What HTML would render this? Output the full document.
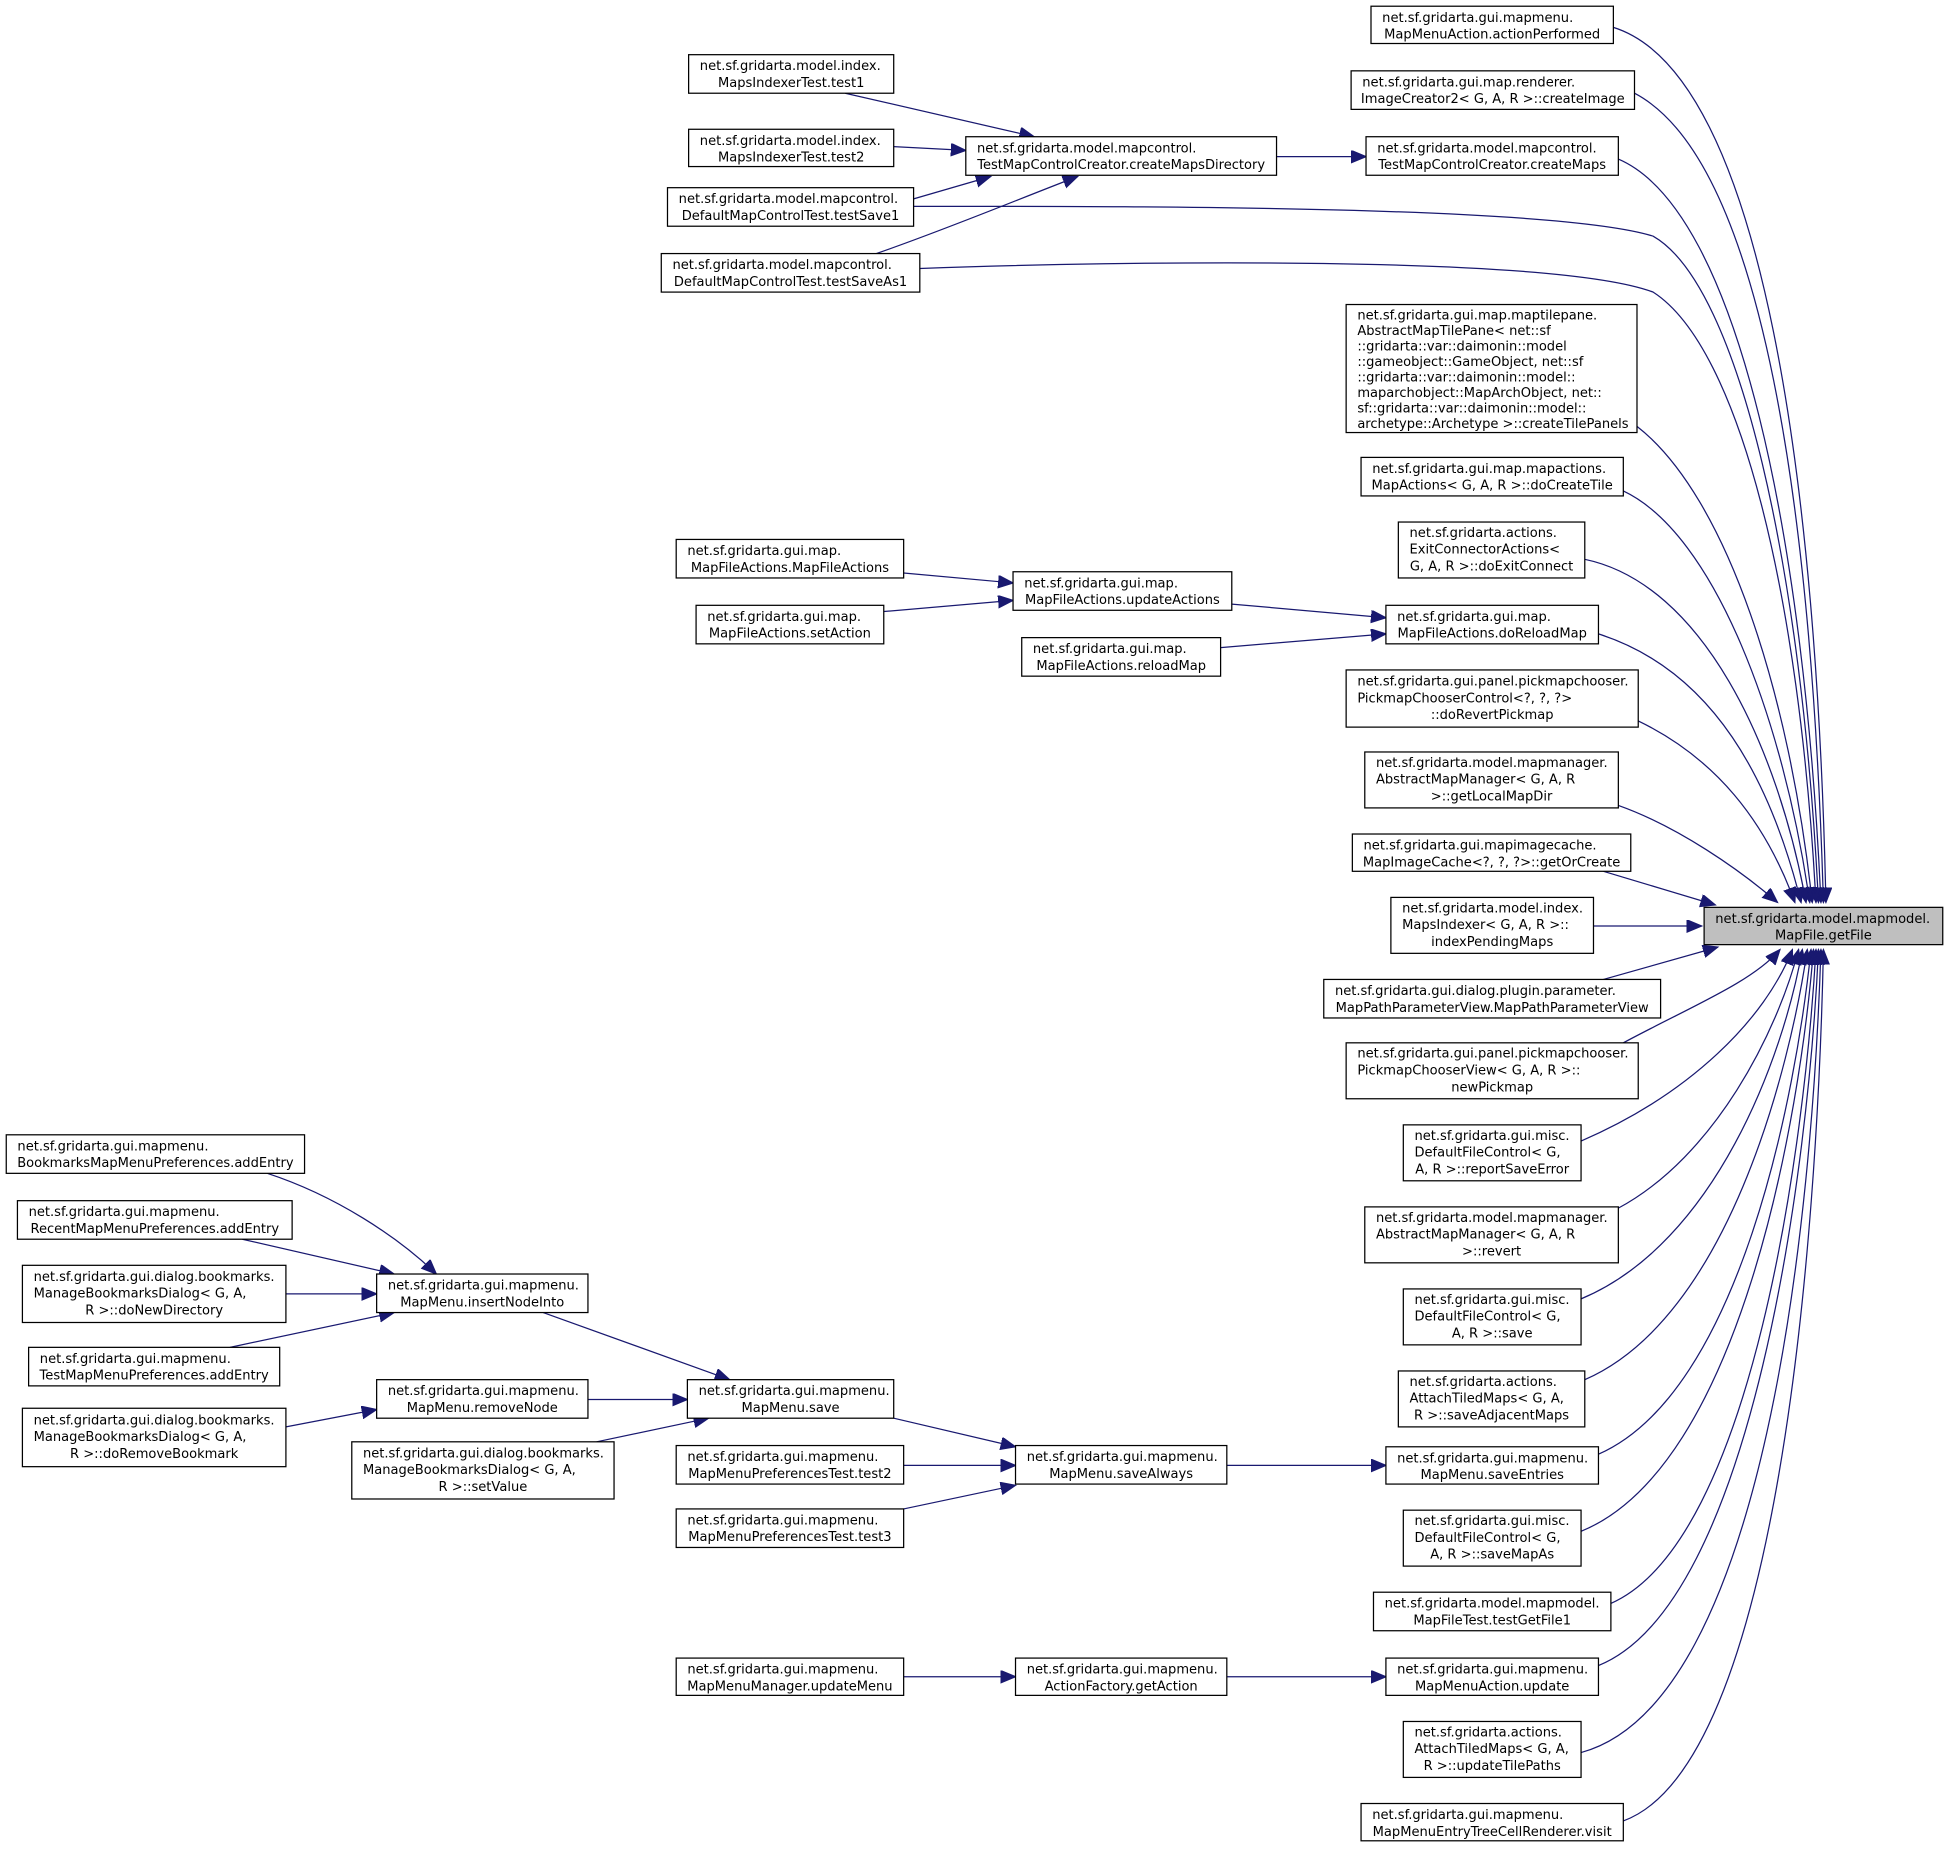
<!DOCTYPE html>
<html><head><meta charset="utf-8"><style>
html,body{margin:0;padding:0;background:#fff;}
svg{display:block;}
text{font-family:"DejaVu Sans","Liberation Sans",sans-serif;font-size:10.5px;fill:#000;}
rect{fill:#fff;stroke:#000;stroke-width:1;}
path.e{fill:none;stroke:#191970;stroke-width:1;}
</style></head><body>
<svg width="1949" height="1849" viewBox="0 0 1568 1487.6" xmlns="http://www.w3.org/2000/svg">
<defs><marker id="a" markerUnits="userSpaceOnUse" markerWidth="14" markerHeight="12" refX="12" refY="5" orient="auto"><path d="M0,0 L12,5 L0,10 z" fill="#191970" stroke="#191970"/></marker></defs>
<rect x="0" y="0" width="1568" height="1488" style="fill:#fff;stroke:none"/>

<g>
<path class="e" marker-end="url(#a)" d="M1298,22 C1420,60 1462,400 1469,726"/>
<path class="e" marker-end="url(#a)" d="M1315,75 C1420,130 1458,420 1467,726"/>
<path class="e" marker-end="url(#a)" d="M1302,128 C1400,170 1452,440 1465,726"/>
<path class="e" marker-end="url(#a)" d="M735,166 C900,166 1250,165 1330,190 C1400,230 1450,460 1463,726"/>
<path class="e" marker-end="url(#a)" d="M740,216 C900,210 1250,205 1330,235 C1400,280 1448,480 1461,726"/>
<path class="e" marker-end="url(#a)" d="M1317,343 C1390,400 1440,560 1458,726"/>
<path class="e" marker-end="url(#a)" d="M1306,395 C1380,430 1435,580 1456,726"/>
<path class="e" marker-end="url(#a)" d="M1275,450 C1370,470 1430,600 1453,726"/>
<path class="e" marker-end="url(#a)" d="M1286,510 C1380,540 1425,630 1449,726"/>
<path class="e" marker-end="url(#a)" d="M1318,580 C1380,610 1420,660 1444,726"/>
<path class="e" marker-end="url(#a)" d="M1302,648 C1350,665 1400,700 1430,726"/>
<path class="e" marker-end="url(#a)" d="M1290,701 L1380,728"/>
<path class="e" marker-end="url(#a)" d="M1282,745 L1369,745"/>
<path class="e" marker-end="url(#a)" d="M1290,788 L1382,762"/>
<path class="e" marker-end="url(#a)" d="M1306,839 C1360,810 1410,790 1432,764"/>
<path class="e" marker-end="url(#a)" d="M1272,918 C1360,880 1420,820 1442,764"/>
<path class="e" marker-end="url(#a)" d="M1302,972 C1380,930 1430,830 1447,764"/>
<path class="e" marker-end="url(#a)" d="M1272,1045 C1380,1000 1435,850 1450,764"/>
<path class="e" marker-end="url(#a)" d="M1275,1110 C1390,1060 1440,860 1454,764"/>
<path class="e" marker-end="url(#a)" d="M1286,1170 C1400,1120 1445,880 1457,764"/>
<path class="e" marker-end="url(#a)" d="M1272,1232 C1400,1180 1448,900 1459,764"/>
<path class="e" marker-end="url(#a)" d="M1296,1290 C1410,1240 1452,920 1461,764"/>
<path class="e" marker-end="url(#a)" d="M1286,1340 C1410,1290 1455,940 1463,764"/>
<path class="e" marker-end="url(#a)" d="M1272,1410 C1420,1370 1458,980 1465,764"/>
<path class="e" marker-end="url(#a)" d="M1306,1465 C1430,1420 1462,1000 1467,764"/>

<path class="e" marker-end="url(#a)" d="M1027,126 L1099,126"/>
<path class="e" marker-end="url(#a)" d="M680,75 L832,110"/>
<path class="e" marker-end="url(#a)" d="M719,118 L777,121"/>
<path class="e" marker-end="url(#a)" d="M735,160 L797,142"/>
<path class="e" marker-end="url(#a)" d="M705,204 C760,185 820,160 867,142"/>

<path class="e" marker-end="url(#a)" d="M727,461 L815,469"/>
<path class="e" marker-end="url(#a)" d="M711,492 L815,483"/>
<path class="e" marker-end="url(#a)" d="M991,486 L1115,497"/>
<path class="e" marker-end="url(#a)" d="M982,521 L1115,510"/>

<path class="e" marker-end="url(#a)" d="M987,1179 L1115,1179"/>
<path class="e" marker-end="url(#a)" d="M719,1141 L817,1164"/>
<path class="e" marker-end="url(#a)" d="M727,1179 L817,1179"/>
<path class="e" marker-end="url(#a)" d="M727,1214 L817,1195"/>
<path class="e" marker-end="url(#a)" d="M437,1056 L587,1110"/>
<path class="e" marker-end="url(#a)" d="M473,1126 L553,1126"/>
<path class="e" marker-end="url(#a)" d="M480,1160 L570,1141"/>
<path class="e" marker-end="url(#a)" d="M215,944 C270,962 320,995 351,1025"/>
<path class="e" marker-end="url(#a)" d="M195,997 L317,1025"/>
<path class="e" marker-end="url(#a)" d="M230,1041 L303,1041"/>
<path class="e" marker-end="url(#a)" d="M185,1084 L317,1056"/>
<path class="e" marker-end="url(#a)" d="M230,1148 L303,1134"/>

<path class="e" marker-end="url(#a)" d="M987,1349 L1115,1349"/>
<path class="e" marker-end="url(#a)" d="M727,1349 L817,1349"/>
</g>

<rect x="1371" y="730" width="192" height="30" style="fill:#bfbfbf"/>
<text x="1380" y="742.5">net.sf.gridarta.model.mapmodel.</text>
<text x="1467" y="756" text-anchor="middle">MapFile.getFile</text>

<rect x="1103" y="5" width="195" height="30"/><text x="1112" y="17.5">net.sf.gridarta.gui.mapmenu.</text><text x="1200.5" y="31" text-anchor="middle">MapMenuAction.actionPerformed</text>
<rect x="1087" y="57" width="228" height="31"/><text x="1096" y="69.5">net.sf.gridarta.gui.map.renderer.</text><text x="1201" y="83" text-anchor="middle">ImageCreator2&lt; G, A, R &gt;::createImage</text>
<rect x="1099" y="110" width="203" height="31"/><text x="1108" y="122.5">net.sf.gridarta.model.mapcontrol.</text><text x="1200.5" y="136" text-anchor="middle">TestMapControlCreator.createMaps</text>
<rect x="1083" y="245" width="234" height="103"/>
<text x="1092" y="257">net.sf.gridarta.gui.map.maptilepane.</text>
<text x="1092" y="269.5">AbstractMapTilePane&lt; net::sf</text>
<text x="1092" y="282">::gridarta::var::daimonin::model</text>
<text x="1092" y="294.5">::gameobject::GameObject, net::sf</text>
<text x="1092" y="307">::gridarta::var::daimonin::model::</text>
<text x="1092" y="319.5">maparchobject::MapArchObject, net::</text>
<text x="1092" y="332">sf::gridarta::var::daimonin::model::</text>
<text x="1092" y="344.5">archetype::Archetype &gt;::createTilePanels</text>
<rect x="1095" y="368" width="211" height="31"/><text x="1104" y="380.5">net.sf.gridarta.gui.map.mapactions.</text><text x="1200.5" y="394" text-anchor="middle">MapActions&lt; G, A, R &gt;::doCreateTile</text>
<rect x="1125" y="420" width="150" height="45"/><text x="1134" y="432">net.sf.gridarta.actions.</text><text x="1134" y="445.5">ExitConnectorActions&lt;</text><text x="1200" y="459" text-anchor="middle">G, A, R &gt;::doExitConnect</text>
<rect x="1115" y="487" width="171" height="31"/><text x="1124" y="499.5">net.sf.gridarta.gui.map.</text><text x="1200.5" y="513" text-anchor="middle">MapFileActions.doReloadMap</text>
<rect x="1083" y="539" width="235" height="46"/><text x="1092" y="551.5">net.sf.gridarta.gui.panel.pickmapchooser.</text><text x="1092" y="565">PickmapChooserControl&lt;?, ?, ?&gt;</text><text x="1200.5" y="578.5" text-anchor="middle">::doRevertPickmap</text>
<rect x="1098" y="605" width="204" height="45"/><text x="1107" y="617">net.sf.gridarta.model.mapmanager.</text><text x="1107" y="630.5">AbstractMapManager&lt; G, A, R</text><text x="1200" y="644" text-anchor="middle">&gt;::getLocalMapDir</text>
<rect x="1088" y="671" width="224" height="30"/><text x="1097" y="683.5">net.sf.gridarta.gui.mapimagecache.</text><text x="1200" y="697" text-anchor="middle">MapImageCache&lt;?, ?, ?&gt;::getOrCreate</text>
<rect x="1119" y="722" width="163" height="45"/><text x="1128" y="734">net.sf.gridarta.model.index.</text><text x="1128" y="747.5">MapsIndexer&lt; G, A, R &gt;::</text><text x="1200.5" y="761" text-anchor="middle">indexPendingMaps</text>
<rect x="1065" y="788" width="271" height="31"/><text x="1074" y="800.5">net.sf.gridarta.gui.dialog.plugin.parameter.</text><text x="1200.5" y="814" text-anchor="middle">MapPathParameterView.MapPathParameterView</text>
<rect x="1083" y="839" width="235" height="45"/><text x="1092" y="851">net.sf.gridarta.gui.panel.pickmapchooser.</text><text x="1092" y="864.5">PickmapChooserView&lt; G, A, R &gt;::</text><text x="1200.5" y="878" text-anchor="middle">newPickmap</text>
<rect x="1129" y="905" width="143" height="45"/><text x="1138" y="917">net.sf.gridarta.gui.misc.</text><text x="1138" y="930.5">DefaultFileControl&lt; G,</text><text x="1200.5" y="944" text-anchor="middle">A, R &gt;::reportSaveError</text>
<rect x="1098" y="971" width="204" height="45"/><text x="1107" y="983">net.sf.gridarta.model.mapmanager.</text><text x="1107" y="996.5">AbstractMapManager&lt; G, A, R</text><text x="1200" y="1010" text-anchor="middle">&gt;::revert</text>
<rect x="1129" y="1037" width="143" height="45"/><text x="1138" y="1049">net.sf.gridarta.gui.misc.</text><text x="1138" y="1062.5">DefaultFileControl&lt; G,</text><text x="1200.5" y="1076" text-anchor="middle">A, R &gt;::save</text>
<rect x="1125" y="1103" width="150" height="45"/><text x="1134" y="1115">net.sf.gridarta.actions.</text><text x="1134" y="1128.5">AttachTiledMaps&lt; G, A,</text><text x="1200" y="1142" text-anchor="middle">R &gt;::saveAdjacentMaps</text>
<rect x="1115" y="1164" width="171" height="30"/><text x="1124" y="1176.5">net.sf.gridarta.gui.mapmenu.</text><text x="1200.5" y="1190" text-anchor="middle">MapMenu.saveEntries</text>
<rect x="1129" y="1215" width="143" height="45"/><text x="1138" y="1227">net.sf.gridarta.gui.misc.</text><text x="1138" y="1240.5">DefaultFileControl&lt; G,</text><text x="1200.5" y="1254" text-anchor="middle">A, R &gt;::saveMapAs</text>
<rect x="1105" y="1281" width="191" height="31"/><text x="1114" y="1293.5">net.sf.gridarta.model.mapmodel.</text><text x="1200.5" y="1307" text-anchor="middle">MapFileTest.testGetFile1</text>
<rect x="1115" y="1334" width="171" height="30"/><text x="1124" y="1346.5">net.sf.gridarta.gui.mapmenu.</text><text x="1200.5" y="1360" text-anchor="middle">MapMenuAction.update</text>
<rect x="1129" y="1385" width="143" height="45"/><text x="1138" y="1397">net.sf.gridarta.actions.</text><text x="1138" y="1410.5">AttachTiledMaps&lt; G, A,</text><text x="1200.5" y="1424" text-anchor="middle">R &gt;::updateTilePaths</text>
<rect x="1095" y="1451" width="211" height="30"/><text x="1104" y="1463.5">net.sf.gridarta.gui.mapmenu.</text><text x="1200.5" y="1477" text-anchor="middle">MapMenuEntryTreeCellRenderer.visit</text>

<rect x="777" y="110" width="250" height="31"/><text x="786" y="122.5">net.sf.gridarta.model.mapcontrol.</text><text x="902" y="136" text-anchor="middle">TestMapControlCreator.createMapsDirectory</text>
<rect x="554" y="44" width="165" height="31"/><text x="563" y="56.5">net.sf.gridarta.model.index.</text><text x="636.5" y="70" text-anchor="middle">MapsIndexerTest.test1</text>
<rect x="554" y="104" width="165" height="30"/><text x="563" y="116.5">net.sf.gridarta.model.index.</text><text x="636.5" y="130" text-anchor="middle">MapsIndexerTest.test2</text>
<rect x="537" y="151" width="198" height="31"/><text x="546" y="163.5">net.sf.gridarta.model.mapcontrol.</text><text x="636" y="177" text-anchor="middle">DefaultMapControlTest.testSave1</text>
<rect x="532" y="204" width="208" height="31"/><text x="541" y="216.5">net.sf.gridarta.model.mapcontrol.</text><text x="636" y="230" text-anchor="middle">DefaultMapControlTest.testSaveAs1</text>

<rect x="815" y="460" width="176" height="31"/><text x="824" y="472.5">net.sf.gridarta.gui.map.</text><text x="903" y="486" text-anchor="middle">MapFileActions.updateActions</text>
<rect x="544" y="434" width="183" height="31"/><text x="553" y="446.5">net.sf.gridarta.gui.map.</text><text x="635.5" y="460" text-anchor="middle">MapFileActions.MapFileActions</text>
<rect x="560" y="487" width="151" height="31"/><text x="569" y="499.5">net.sf.gridarta.gui.map.</text><text x="635.5" y="513" text-anchor="middle">MapFileActions.setAction</text>
<rect x="822" y="513" width="160" height="31"/><text x="831" y="525.5">net.sf.gridarta.gui.map.</text><text x="902" y="539" text-anchor="middle">MapFileActions.reloadMap</text>

<rect x="817" y="1163" width="170" height="31"/><text x="826" y="1175.5">net.sf.gridarta.gui.mapmenu.</text><text x="902" y="1189" text-anchor="middle">MapMenu.saveAlways</text>
<rect x="553" y="1110" width="166" height="31"/><text x="562" y="1122.5">net.sf.gridarta.gui.mapmenu.</text><text x="636" y="1136" text-anchor="middle">MapMenu.save</text>
<rect x="544" y="1163" width="183" height="31"/><text x="553" y="1175.5">net.sf.gridarta.gui.mapmenu.</text><text x="635.5" y="1189" text-anchor="middle">MapMenuPreferencesTest.test2</text>
<rect x="544" y="1214" width="183" height="31"/><text x="553" y="1226.5">net.sf.gridarta.gui.mapmenu.</text><text x="635.5" y="1240" text-anchor="middle">MapMenuPreferencesTest.test3</text>
<rect x="303" y="1025" width="170" height="31"/><text x="312" y="1037.5">net.sf.gridarta.gui.mapmenu.</text><text x="388" y="1051" text-anchor="middle">MapMenu.insertNodeInto</text>
<rect x="303" y="1110" width="170" height="31"/><text x="312" y="1122.5">net.sf.gridarta.gui.mapmenu.</text><text x="388" y="1136" text-anchor="middle">MapMenu.removeNode</text>
<rect x="283" y="1160" width="211" height="46"/><text x="292" y="1172.5">net.sf.gridarta.gui.dialog.bookmarks.</text><text x="292" y="1186">ManageBookmarksDialog&lt; G, A,</text><text x="388.5" y="1199.5" text-anchor="middle">R &gt;::setValue</text>
<rect x="5" y="913" width="240" height="31"/><text x="14" y="925.5">net.sf.gridarta.gui.mapmenu.</text><text x="125" y="939" text-anchor="middle">BookmarksMapMenuPreferences.addEntry</text>
<rect x="14" y="966" width="221" height="31"/><text x="23" y="978.5">net.sf.gridarta.gui.mapmenu.</text><text x="124.5" y="992" text-anchor="middle">RecentMapMenuPreferences.addEntry</text>
<rect x="18" y="1018" width="212" height="46"/><text x="27" y="1030.5">net.sf.gridarta.gui.dialog.bookmarks.</text><text x="27" y="1044">ManageBookmarksDialog&lt; G, A,</text><text x="124" y="1057.5" text-anchor="middle">R &gt;::doNewDirectory</text>
<rect x="23" y="1084" width="202" height="31"/><text x="32" y="1096.5">net.sf.gridarta.gui.mapmenu.</text><text x="124" y="1110" text-anchor="middle">TestMapMenuPreferences.addEntry</text>
<rect x="18" y="1133" width="212" height="47"/><text x="27" y="1146">net.sf.gridarta.gui.dialog.bookmarks.</text><text x="27" y="1159.5">ManageBookmarksDialog&lt; G, A,</text><text x="124" y="1173" text-anchor="middle">R &gt;::doRemoveBookmark</text>
<rect x="817" y="1334" width="170" height="30"/><text x="826" y="1346.5">net.sf.gridarta.gui.mapmenu.</text><text x="902" y="1360" text-anchor="middle">ActionFactory.getAction</text>
<rect x="544" y="1334" width="183" height="30"/><text x="553" y="1346.5">net.sf.gridarta.gui.mapmenu.</text><text x="635.5" y="1360" text-anchor="middle">MapMenuManager.updateMenu</text>
</svg>
</body></html>
